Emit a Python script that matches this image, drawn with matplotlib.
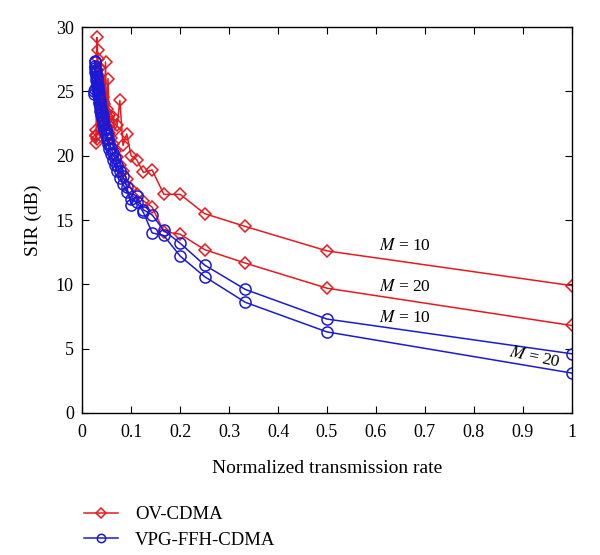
import numpy as np
import matplotlib
matplotlib.use('Agg')
from matplotlib import pyplot as plt

# Normalized transmission rate: 1/n
n_ov = np.arange(1, 37)
n_vpg = np.arange(1, 41)
rate_ov = 1.0 / n_ov
rate_vpg = 1.0 / n_vpg

# OV-CDMA, M = 10
sir_ov_m10 = [9.9, 12.6, 14.5, 15.5, 17.0, 17.0, 18.9, 18.7, 19.7, 20.0,
              21.7, 20.8, 24.3, 22.4, 22.0, 23.0, 22.6, 23.2, 23.0, 23.6,
              23.4, 24.0, 24.2, 24.6, 24.4, 25.0, 25.3, 25.8, 26.2, 26.8,
              27.5, 28.2, 29.2, 21.3, 21.0, 21.6]
# OV-CDMA, M = 20
sir_ov_m20 = [6.8, 9.7, 11.65, 12.7, 13.9, 14.1, 16.0, 16.5, 17.0, 17.4,
              18.2, 18.8, 19.3, 19.9, 20.4, 20.9, 21.4, 21.8, 26.0, 22.0,
              27.3, 22.4, 22.8, 23.1, 23.4, 23.8, 24.1, 24.4, 24.8, 25.1,
              25.5, 25.9, 26.3, 26.7, 22.0, 21.5]
# VPG-FFH-CDMA, M = 10
sir_vpg_m10 = [4.6, 7.3, 9.6, 11.5, 13.2, 14.2, 15.4, 15.8, 16.9, 16.2,
               17.6, 18.4, 18.8, 19.3, 19.8, 20.2, 20.6, 21.0, 21.4, 21.8,
               22.1, 22.5, 22.8, 23.1, 23.4, 23.7, 24.0, 24.3, 24.6, 24.9,
               25.2, 25.5, 25.8, 26.1, 26.4, 26.7, 27.0, 27.3, 27.4, 25.0]
# VPG-FFH-CDMA, M = 20
sir_vpg_m20 = [3.1, 6.3, 8.6, 10.6, 12.2, 13.8, 14.0, 15.6, 16.4, 16.6,
               17.2, 17.8, 18.3, 18.8, 19.3, 19.7, 20.1, 20.5, 20.9, 21.3,
               21.6, 22.0, 22.3, 22.6, 22.9, 23.2, 23.5, 23.8, 24.1, 24.4,
               24.7, 25.0, 25.3, 25.6, 25.9, 26.2, 26.5, 26.8, 25.2, 24.8]

plt.rcParams['font.family'] = ['Liberation Serif', 'DejaVu Serif']
plt.rcParams['mathtext.fontset'] = 'stix'

fig = plt.figure(figsize=(6, 5.55), dpi=100)
ax = fig.add_axes([0.137, 0.256, 0.816, 0.695])

red = '#e8191e'
blue = '#1a1ad6'
kw_ov = dict(color=red, marker='D', markersize=6.5, markerfacecolor='none',
             markeredgewidth=1.1, linewidth=1.1)
kw_vpg = dict(color=blue, marker='o', markersize=8, markerfacecolor='none',
              markeredgewidth=1.1, linewidth=1.1)

ax.plot(rate_ov, sir_ov_m10, label='OV-CDMA', **kw_ov)
ax.plot(rate_ov, sir_ov_m20, **kw_ov)
ax.plot(rate_vpg, sir_vpg_m10, label='VPG-FFH-CDMA', **kw_vpg)
ax.plot(rate_vpg, sir_vpg_m20, **kw_vpg)

ax.set_xlim(0, 1)
ax.set_ylim(0, 30)
ax.set_xticks(np.arange(0, 1.01, 0.1))
ax.set_xticklabels(['0', '0.1', '0.2', '0.3', '0.4', '0.5', '0.6', '0.7', '0.8', '0.9', '1'])
ax.set_yticks(range(0, 31, 5))
ax.tick_params(direction='in', top=True, right=True, labelsize=13, length=5)
ax.tick_params(axis='x', pad=8)
ax.tick_params(axis='y', pad=6)
for s in ax.spines.values():
    s.set_linewidth(1.0)

ax.set_xlabel('Normalized transmission rate', fontsize=14, labelpad=14)
ax.set_ylabel('SIR (dB)', fontsize=14, labelpad=10)

ax.text(0.66, 13.0, '$M$ = 10', fontsize=12.5, ha='center', va='center')
ax.text(0.66, 9.8, '$M$ = 20', fontsize=12.5, ha='center', va='center')
ax.text(0.66, 7.4, '$M$ = 10', fontsize=12.5, ha='center', va='center')
ax.text(0.925, 4.3, '$M$ = 20', fontsize=12.5, ha='center', va='center', rotation=-12)

fig.legend(loc='upper left', bbox_to_anchor=(0.125, 0.105), frameon=False,
           fontsize=13.5, handlelength=1.8, handletextpad=0.9, labelspacing=0.45,
           borderpad=0, markerscale=0.75)

plt.savefig('out.png', dpi=100)
